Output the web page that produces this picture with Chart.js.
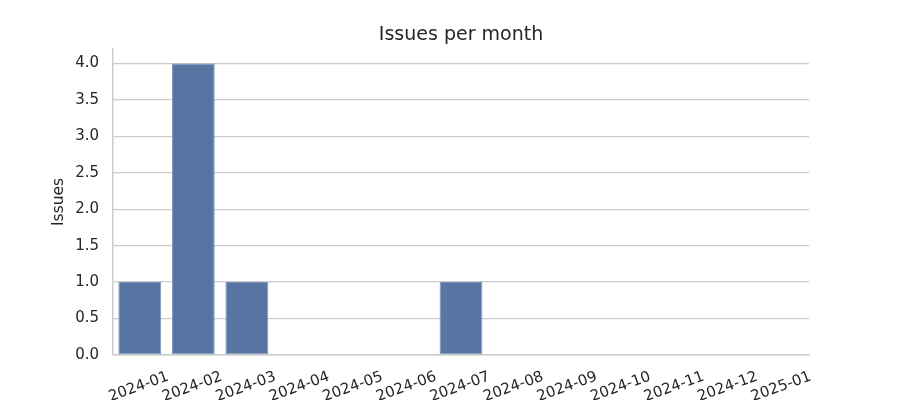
<!DOCTYPE html>
<html>
<head>
<meta charset="utf-8">
<script src="https://cdn.jsdelivr.net/npm/chart.js@4/dist/chart.umd.min.js"></script>
<style>
  body { margin: 0; background: #fff; }
</style>
</head>
<body>
<canvas id="issuesChart" width="900" height="400"></canvas>
<script>
// months on the x axis
const monthLabels = [
    '2024-01', '2024-02', '2024-03', '2024-04', '2024-05', '2024-06', '2024-07',
    '2024-08', '2024-09', '2024-10', '2024-11', '2024-12', '2025-01'
];

// issues opened each month
const issueCounts = [1, 4, 1, 0, 0, 0, 1, 0, 0, 0, 0, 0, 0];

const textColor = '#262626';
const gridColor = '#cccccc';

// x labels are rotated 20deg and centred on the tick, like matplotlib does
const rotatedLabels = {
    id: 'rotatedLabels',
    afterDraw(chart) {
        const ctx = chart.ctx;
        const xScale = chart.scales.x;
        ctx.save();
        ctx.font = '15px "DejaVu Sans"';
        ctx.fillStyle = textColor;
        ctx.textAlign = 'center';
        ctx.textBaseline = 'middle';
        monthLabels.forEach((lbl, i) => {
            const x = xScale.getPixelForTick(i) - 1;
            const y = xScale.top + 32;
            ctx.save();
            ctx.translate(x, y);
            ctx.rotate(-20 * Math.PI / 180);
            ctx.fillText(lbl, 0, 0);
            ctx.restore();
        });
        ctx.restore();
    }
};

const issuesData = {
    labels: monthLabels,
    datasets: [{
        label: 'Issues',
        backgroundColor: '#5975a4',
        borderColor: '#7b93b9',
        borderWidth: (c) => (issueCounts[c.dataIndex] ? 1 : 0),
        borderSkipped: false,
        barPercentage: 0.8,
        categoryPercentage: 1.0,
        data: issueCounts
    }]
};

const issuesConfig = {
    type: 'bar',
    data: issuesData,
    options: {
        responsive: false,
        animation: false,
        layout: {
            padding: { left: 0, right: 91, top: 0, bottom: 0 }
        },
        plugins: {
            legend: { display: false },
            tooltip: { enabled: false },
            title: {
                display: true,
                fullSize: false,
                text: 'Issues per month',
                color: textColor,
                font: { family: 'DejaVu Sans', size: 19, weight: 'normal' },
                padding: { top: 24, bottom: 2 }
            }
        },
        scales: {
            x: {
                grid: { display: false, drawTicks: false },
                border: { display: true, color: gridColor, width: 1.5 },
                ticks: { display: false },
                afterFit(scale) { scale.height = 45; }
            },
            y: {
                min: 0,
                max: 4.2,
                grid: { color: gridColor, lineWidth: 1.3, drawTicks: false },
                border: { display: true, color: gridColor, width: 1.5 },
                ticks: {
                    stepSize: 0.5,
                    includeBounds: false,
                    padding: 14,
                    color: textColor,
                    font: { family: 'DejaVu Sans', size: 15 },
                    callback: (v) => v.toFixed(1)
                },
                title: {
                    display: true,
                    text: 'Issues',
                    color: textColor,
                    font: { family: 'DejaVu Sans', size: 15.5 },
                    padding: { top: 50, bottom: 0 }
                },
                afterFit(scale) { scale.width = 113; }
            }
        }
    },
    plugins: [rotatedLabels]
};

var issuesChart = new Chart(
    document.getElementById('issuesChart'),
    issuesConfig
);
</script>
</body>
</html>
